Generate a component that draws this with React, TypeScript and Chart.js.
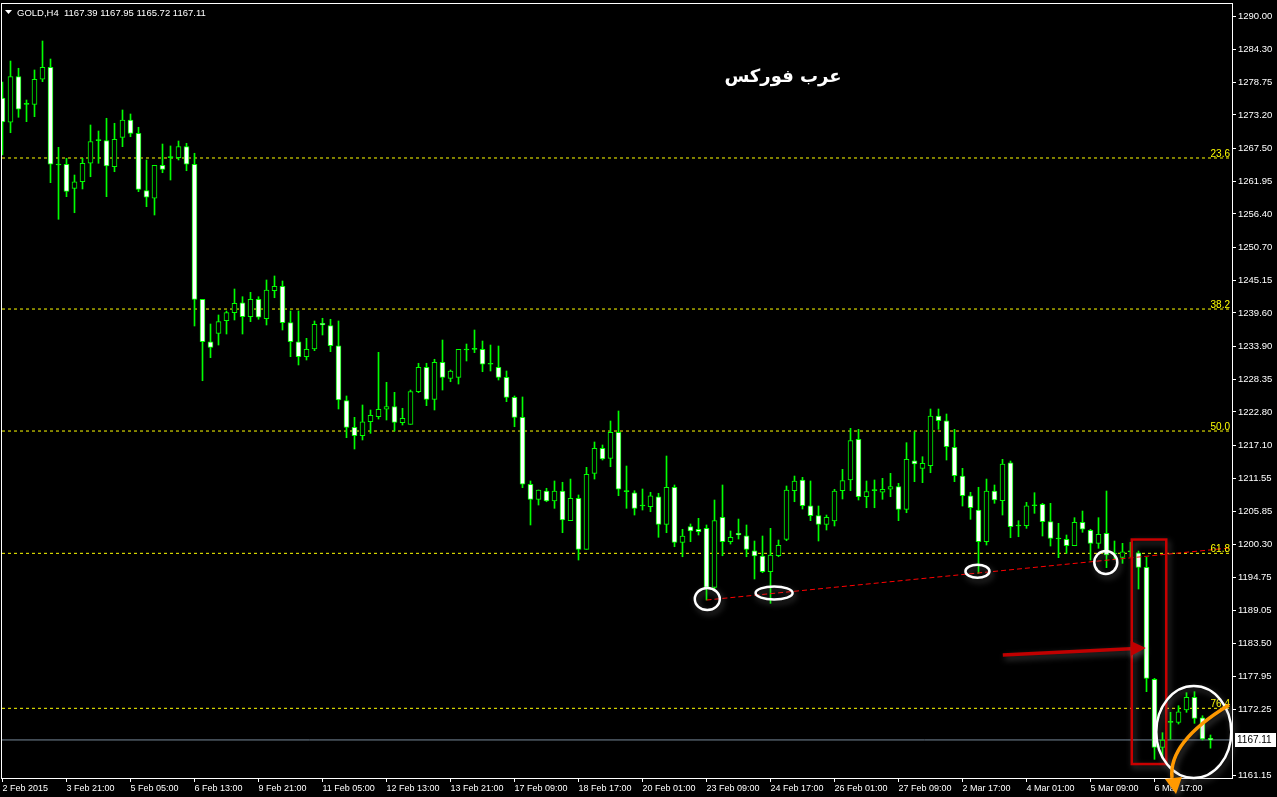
import React, { useEffect, useRef } from 'react';
import { Chart, registerables } from 'chart.js';

Chart.register(...registerables);

// ---- DATA (GOLD, H4) ----
const opens = [
  1276.08, 1271.96, 1279.70, 1275.01, 1275.01, 1279.26, 1281.30, 1264.71, 1264.83, 1260.75,
  1261.87, 1265.00, 1268.84, 1268.84, 1264.42, 1269.41, 1272.35, 1270.09, 1260.35, 1259.06,
  1264.66, 1265.95, 1265.95, 1267.82, 1264.83, 1241.91, 1234.71, 1236.14, 1238.28, 1239.64,
  1241.33, 1238.96, 1241.91, 1238.62, 1243.37, 1244.12, 1237.94, 1234.71, 1232.17, 1233.47,
  1237.84, 1237.43, 1234.03, 1224.70, 1220.18, 1218.76, 1221.13, 1221.98, 1223.24, 1223.68,
  1220.96, 1220.69, 1226.23, 1230.37, 1224.93, 1231.22, 1228.50, 1228.67, 1233.30, 1233.42,
  1233.42, 1230.88, 1230.37, 1228.67, 1225.27, 1221.88, 1210.51, 1207.96, 1209.37, 1207.67,
  1209.37, 1204.33, 1208.13, 1199.47, 1212.37, 1216.62, 1214.92, 1219.33, 1209.25, 1209.08,
  1206.82, 1206.70, 1208.40, 1203.71, 1210.00, 1200.66, 1203.31, 1202.87, 1203.03, 1193.02,
  1204.90, 1200.76, 1202.19, 1201.78, 1199.23, 1198.33, 1195.67, 1198.38, 1201.17, 1209.42,
  1211.24, 1206.87, 1205.18, 1203.71, 1204.28, 1209.42, 1211.24, 1218.14, 1208.40, 1209.42,
  1209.15, 1209.66, 1210.10, 1206.26, 1214.51, 1213.22, 1213.66, 1222.10, 1221.30, 1216.79,
  1211.91, 1208.57, 1206.14, 1200.76, 1209.37, 1207.72, 1214.17, 1203.43, 1203.48, 1206.87,
  1207.11, 1204.16, 1201.22, 1201.17, 1200.08, 1204.05, 1202.69, 1200.49, 1202.19, 1198.67,
  1198.11, 1199.06, 1198.89, 1196.41, 1177.40, 1165.86, 1170.10, 1170.10, 1172.19, 1174.35,
  1170.88, 1167.39,
];
const highs = [
  1278.80, 1282.36, 1281.13, 1275.74, 1280.84, 1285.76, 1282.70, 1267.71, 1265.85, 1263.01,
  1265.85, 1271.50, 1270.48, 1272.64, 1271.79, 1274.05, 1273.37, 1271.11, 1265.56, 1264.66,
  1268.27, 1267.94, 1268.78, 1268.39, 1266.70, 1241.91, 1237.72, 1239.25, 1239.92, 1243.66,
  1242.35, 1243.10, 1242.35, 1245.19, 1245.87, 1245.02, 1239.92, 1239.92, 1235.29, 1238.23,
  1238.69, 1238.52, 1238.23, 1225.50, 1221.88, 1223.97, 1223.12, 1232.91, 1227.82, 1226.12,
  1223.41, 1226.51, 1231.05, 1231.05, 1231.73, 1235.00, 1229.91, 1233.42, 1234.32, 1236.70,
  1234.83, 1234.15, 1233.98, 1229.74, 1225.50, 1225.33, 1211.07, 1209.54, 1209.83, 1211.07,
  1210.85, 1211.40, 1208.69, 1213.39, 1217.69, 1217.18, 1221.25, 1222.95, 1213.61, 1209.42,
  1209.71, 1209.15, 1208.98, 1215.31, 1210.39, 1202.87, 1203.77, 1204.73, 1203.60, 1207.84,
  1210.39, 1202.58, 1204.61, 1203.60, 1200.88, 1201.73, 1203.03, 1201.05, 1210.22, 1211.91,
  1211.69, 1211.07, 1206.82, 1205.29, 1209.66, 1213.05, 1220.01, 1219.84, 1211.07, 1211.24,
  1211.52, 1212.37, 1210.67, 1217.57, 1219.44, 1215.19, 1223.29, 1223.29, 1222.44, 1219.84,
  1213.22, 1209.15, 1210.00, 1211.40, 1210.39, 1214.75, 1214.46, 1204.33, 1207.45, 1209.08,
  1207.28, 1207.28, 1203.88, 1201.90, 1204.84, 1205.97, 1202.87, 1204.84, 1209.37, 1200.88,
  1200.49, 1200.66, 1199.18, 1198.11, 1177.57, 1168.34, 1171.80, 1172.92, 1175.13, 1175.30,
  1171.22, 1167.95,
];
const lows = [
  1266.41, 1270.19, 1272.81, 1272.06, 1272.91, 1278.85, 1261.71, 1255.49, 1259.33, 1256.61,
  1260.64, 1262.72, 1265.00, 1259.33, 1263.57, 1267.82, 1269.51, 1260.18, 1257.63, 1256.22,
  1263.40, 1262.16, 1265.56, 1263.74, 1237.38, 1228.09, 1232.00, 1234.15, 1236.02, 1238.40,
  1236.02, 1238.11, 1238.52, 1237.55, 1242.18, 1236.70, 1232.17, 1230.76, 1231.61, 1233.19,
  1235.85, 1233.02, 1223.29, 1218.42, 1216.50, 1218.03, 1219.16, 1221.59, 1221.42, 1219.55,
  1220.57, 1220.69, 1226.06, 1223.85, 1223.12, 1226.51, 1227.92, 1227.53, 1231.44, 1232.85,
  1229.62, 1229.74, 1228.21, 1224.53, 1220.28, 1209.93, 1203.60, 1206.99, 1207.55, 1206.43,
  1202.29, 1204.33, 1197.65, 1199.47, 1211.40, 1214.63, 1213.49, 1208.57, 1206.43, 1205.29,
  1206.14, 1205.85, 1201.51, 1202.29, 1199.91, 1198.21, 1200.76, 1201.90, 1190.86, 1192.56,
  1198.38, 1200.37, 1201.22, 1198.21, 1194.43, 1195.50, 1190.30, 1198.21, 1200.93, 1207.55,
  1206.31, 1204.33, 1200.88, 1202.75, 1203.43, 1208.01, 1209.42, 1207.84, 1206.53, 1206.53,
  1207.96, 1208.40, 1204.33, 1205.68, 1210.95, 1210.78, 1212.47, 1219.84, 1214.63, 1210.95,
  1206.82, 1204.56, 1195.40, 1200.20, 1207.28, 1205.29, 1201.44, 1201.61, 1203.03, 1205.58,
  1201.73, 1200.03, 1198.05, 1198.79, 1200.08, 1202.36, 1197.65, 1199.64, 1196.35, 1197.77,
  1197.09, 1198.21, 1192.73, 1175.30, 1163.82, 1164.04, 1167.22, 1169.81, 1171.80, 1169.93,
  1167.10, 1165.72,
];
const closes = [
  1272.01, 1279.70, 1274.17, 1275.01, 1279.26, 1281.30, 1264.83, 1264.71, 1260.24, 1261.87,
  1265.00, 1268.67, 1268.84, 1264.54, 1269.07, 1272.35, 1270.09, 1260.58, 1259.23, 1264.66,
  1263.98, 1265.95, 1267.82, 1264.83, 1241.91, 1234.71, 1233.76, 1238.11, 1239.64, 1241.23,
  1238.96, 1241.91, 1238.86, 1243.49, 1244.12, 1237.94, 1234.71, 1232.17, 1233.42, 1237.67,
  1237.55, 1234.03, 1224.82, 1220.18, 1218.76, 1221.13, 1222.22, 1223.24, 1223.68, 1221.03,
  1221.71, 1226.23, 1230.37, 1224.93, 1231.22, 1228.67, 1229.74, 1233.42, 1233.30, 1233.42,
  1230.88, 1230.88, 1228.67, 1225.27, 1221.88, 1210.51, 1207.96, 1209.54, 1207.67, 1209.37,
  1204.44, 1208.13, 1199.47, 1212.20, 1216.62, 1214.80, 1219.33, 1209.66, 1209.25, 1206.43,
  1206.82, 1208.57, 1203.71, 1210.00, 1200.66, 1201.73, 1202.58, 1202.46, 1193.02, 1204.33,
  1200.76, 1201.51, 1201.90, 1199.47, 1198.33, 1195.67, 1198.50, 1200.15, 1209.54, 1211.07,
  1206.87, 1205.18, 1203.71, 1204.90, 1209.37, 1211.12, 1217.91, 1208.40, 1209.25, 1209.42,
  1209.66, 1210.10, 1206.26, 1214.75, 1213.95, 1214.07, 1222.10, 1221.30, 1216.89, 1211.96,
  1208.57, 1206.53, 1200.76, 1209.37, 1207.84, 1213.95, 1203.31, 1203.43, 1206.87, 1206.87,
  1204.16, 1201.34, 1201.22, 1200.08, 1204.05, 1202.87, 1200.49, 1202.02, 1198.50, 1198.67,
  1199.06, 1199.06, 1196.41, 1177.57, 1165.86, 1167.10, 1170.10, 1171.90, 1174.35, 1170.78,
  1167.27, 1167.11,
];

const timeLabels = [
  '2 Feb 2015', '3 Feb 21:00', '5 Feb 05:00', '6 Feb 13:00', '9 Feb 21:00', '11 Feb 05:00',
  '12 Feb 13:00', '13 Feb 21:00', '17 Feb 09:00', '18 Feb 17:00', '20 Feb 01:00', '23 Feb 09:00',
  '24 Feb 17:00', '26 Feb 01:00', '27 Feb 09:00', '2 Mar 17:00', '4 Mar 01:00', '5 Mar 09:00',
  '6 Mar 17:00',
];
const barsPerTimeLabel = 8;

const priceTicks = [
  1290.0, 1284.3, 1278.75, 1273.2, 1267.5, 1261.95, 1256.4, 1250.7, 1245.15, 1239.6, 1233.9,
  1228.35, 1222.8, 1217.1, 1211.55, 1205.85, 1200.3, 1194.75, 1189.05, 1183.5, 1177.95,
  1172.25, 1161.15,
];

const fibLabels = ['23.6', '38.2', '50.0', '61.8', '76.4'];
const fibPrices = [1265.9, 1240.26, 1219.55, 1198.79, 1172.48];

const trendIndex = [88, 153.69];
const trendPrices = [1190.86, 1199.74];

const lastPrice = 1167.11;
const headerText = 'GOLD,H4  1167.39 1167.95 1165.72 1167.11';
const titleText = 'عرب فوركس';

// ---- view window ----
const X_MIN = -0.0625;
const X_MAX = 153.6875;
const Y_MIN = 1160.65;
const Y_MAX = 1292.04;

const FONT = "'Liberation Sans', Arial, sans-serif";

// annotation shapes (data coordinates: bar index, price; radii in px)
const ellipses = [
  { i: 88.1, p: 1191.03, rx: 12.5, ry: 11 },
  { i: 96.45, p: 1192.05, rx: 18.5, ry: 6.5 },
  { i: 121.87, p: 1195.74, rx: 12, ry: 6.5 },
  { i: 137.91, p: 1197.23, rx: 11.5, ry: 11.5 },
  { i: 148.91, p: 1168.46, rx: 37.5, ry: 46 },
];
const boxRange = { i0: 141.16, i1: 145.47, p0: 1201.13, p1: 1163.02 };
const redArrow = { i0: 125.04, p0: 1181.53, i1: 142.91, p1: 1182.72 };
const orangeCurve = { i0: 153.31, p0: 1173.04, ic: 145.69, pc: 1166.76, i1: 146.19, p1: 1160.65 };
const orangeHead = [
  [146.69, 1157.93],
  [145.31, 1160.48],
  [147.44, 1160.82],
];

const overlayPlugin = {
  id: 'mt4overlay',
  afterDatasetsDraw(chart: any) {
    const { ctx, chartArea: a, scales } = chart;
    const X = (v: number) => scales.x.getPixelForValue(v);
    const Y = (v: number) => scales.y.getPixelForValue(v);
    ctx.save();

    // frame
    ctx.strokeStyle = '#ffffff';
    ctx.lineWidth = 1;
    ctx.strokeRect(a.left - 0.5, a.top - 0.5, a.right - a.left + 1, a.bottom - a.top + 1);

    // fib labels
    ctx.font = `10px ${FONT}`;
    ctx.fillStyle = '#ffff00';
    ctx.textAlign = 'right';
    ctx.textBaseline = 'alphabetic';
    fibPrices.forEach((p, k) => ctx.fillText(fibLabels[k], a.right - 2, Math.round(Y(p)) - 1));

    // header
    ctx.fillStyle = '#ffffff';
    ctx.beginPath();
    ctx.moveTo(5, 10);
    ctx.lineTo(12, 10);
    ctx.lineTo(8.5, 14);
    ctx.closePath();
    ctx.fill();
    ctx.textAlign = 'left';
    ctx.font = `9.5px ${FONT}`;
    ctx.fillText(headerText, 17, 16);

    // title
    ctx.font = "bold 18px 'DejaVu Sans', sans-serif";
    ctx.textAlign = 'center';
    ctx.textBaseline = 'middle';
    ctx.fillText(titleText, 783, 77);

    // annotations with soft shadow
    ctx.shadowColor = 'rgba(150,150,150,0.45)';
    ctx.shadowBlur = 6;
    ctx.shadowOffsetX = 2;
    ctx.shadowOffsetY = 3;

    // red box
    ctx.strokeStyle = '#c80000';
    ctx.lineWidth = 2.5;
    const bx0 = X(boxRange.i0), bx1 = X(boxRange.i1);
    const by0 = Y(boxRange.p0), by1 = Y(boxRange.p1);
    ctx.strokeRect(bx0, by0, bx1 - bx0, by1 - by0);

    // red arrow
    const ax0 = X(redArrow.i0), ay0 = Y(redArrow.p0);
    const ax1 = X(redArrow.i1), ay1 = Y(redArrow.p1);
    ctx.strokeStyle = '#c00000';
    ctx.fillStyle = '#c00000';
    ctx.lineWidth = 3.5;
    ctx.beginPath();
    ctx.moveTo(ax0, ay0);
    ctx.lineTo(ax1 - 15, ay1 + 0.8);
    ctx.stroke();
    ctx.beginPath();
    ctx.moveTo(ax1, ay1);
    ctx.lineTo(ax1 - 15, ay1 - 7);
    ctx.lineTo(ax1 - 15, ay1 + 8);
    ctx.closePath();
    ctx.fill();

    // white ellipses
    ctx.strokeStyle = '#ffffff';
    ctx.lineWidth = 2.5;
    ellipses.forEach((e) => {
      ctx.beginPath();
      ctx.ellipse(X(e.i), Y(e.p), e.rx, e.ry, 0, 0, Math.PI * 2);
      ctx.stroke();
    });

    // orange curved arrow
    ctx.strokeStyle = '#ff9900';
    ctx.fillStyle = '#ff9900';
    ctx.lineWidth = 3.5;
    ctx.beginPath();
    ctx.moveTo(X(orangeCurve.i0), Y(orangeCurve.p0));
    ctx.quadraticCurveTo(X(orangeCurve.ic), Y(orangeCurve.pc), X(orangeCurve.i1), Y(orangeCurve.p1));
    ctx.stroke();
    ctx.beginPath();
    orangeHead.forEach(([i, p], k) => (k === 0 ? ctx.moveTo(X(i), Y(p)) : ctx.lineTo(X(i), Y(p))));
    ctx.closePath();
    ctx.fill();

    ctx.shadowColor = 'transparent';
    ctx.shadowBlur = 0;
    ctx.shadowOffsetX = 0;
    ctx.shadowOffsetY = 0;

    // current price label
    const py = Math.round(Y(lastPrice));
    ctx.fillStyle = '#ffffff';
    ctx.fillRect(a.right + 3, py - 7, 41, 14);
    ctx.fillStyle = '#000000';
    ctx.font = `10px ${FONT}`;
    ctx.textAlign = 'left';
    ctx.textBaseline = 'middle';
    ctx.fillText(lastPrice.toFixed(2), a.right + 5, py + 0.5);

    ctx.restore();
  },
};

export default function App() {
  const ref = useRef<HTMLCanvasElement>(null);

  useEffect(() => {
    document.body.style.margin = '0';
    document.body.style.background = '#000';
    const canvas = ref.current;
    if (!canvas) return;
    const n = opens.length;
    const idx = Array.from({ length: n }, (_, i) => i);
    const bodyFill = idx.map((i) =>
      closes[i] > opens[i] ? '#000000' : closes[i] < opens[i] ? '#ffffff' : '#00ff00'
    );

    const lineDs = (data: any[], color: string, dash: number[] | undefined, order: number) => ({
      type: 'line' as const,
      data,
      borderColor: color,
      borderWidth: 1,
      borderDash: dash,
      pointRadius: 0,
      fill: false,
      tension: 0,
      order,
    });

    const chart = new Chart(canvas, {
      type: 'bar',
      data: {
        datasets: [
          lineDs(
            trendIndex.map((x, k) => ({ x, y: trendPrices[k] })),
            '#ff0000',
            [5, 3],
            0
          ) as any,
          {
            type: 'bar',
            data: idx.map((i) => ({ x: i, y: [opens[i], closes[i]] })),
            backgroundColor: bodyFill,
            borderColor: '#00ff00',
            borderWidth: 1,
            borderSkipped: false,
            barThickness: 5,
            minBarLength: 1,
            grouped: false,
            order: 1,
          } as any,
          {
            type: 'bar',
            data: idx.map((i) => ({ x: i, y: [lows[i], highs[i]] })),
            backgroundColor: '#00ff00',
            borderWidth: 0,
            barThickness: 1,
            grouped: false,
            order: 2,
          } as any,
          ...fibPrices.map(
            (p) =>
              lineDs(
                [
                  { x: X_MIN, y: p },
                  { x: X_MAX, y: p },
                ],
                '#ffff00',
                [3, 3],
                3
              ) as any
          ),
          lineDs(
            [
              { x: X_MIN, y: lastPrice },
              { x: X_MAX, y: lastPrice },
            ],
            '#778899',
            undefined,
            3
          ) as any,
        ],
      },
      options: {
        responsive: false,
        animation: false,
        events: [],
        layout: { padding: { left: 2, top: 4, right: 0, bottom: 0 } },
        plugins: { legend: { display: false }, tooltip: { enabled: false } },
        scales: {
          x: {
            type: 'linear',
            position: 'bottom',
            min: X_MIN,
            max: X_MAX,
            offset: false,
            afterBuildTicks: (s: any) => {
              s.ticks = timeLabels.map((_, k) => ({ value: k * barsPerTimeLabel }));
            },
            afterFit: (s: any) => {
              s.height = 19;
              s.paddingLeft = 0;
              s.paddingRight = 0;
            },
            grid: {
              offset: false,
              drawOnChartArea: false,
              drawTicks: true,
              tickLength: 4,
              color: '#ffffff',
            },
            border: { display: false },
            ticks: {
              autoSkip: false,
              maxRotation: 0,
              minRotation: 0,
              align: 'start',
              padding: 1,
              color: '#ffffff',
              font: { family: FONT, size: 9 },
              callback: (_v: any, i: number) => timeLabels[i] ?? '',
            },
          } as any,
          y: {
            type: 'linear',
            position: 'right',
            min: Y_MIN,
            max: Y_MAX,
            beginAtZero: false,
            afterBuildTicks: (s: any) => {
              s.ticks = priceTicks.map((v) => ({ value: v }));
            },
            afterFit: (s: any) => {
              s.width = 45;
              s.paddingTop = 0;
              s.paddingBottom = 0;
            },
            grid: {
              drawOnChartArea: false,
              drawTicks: true,
              tickLength: 4,
              color: '#ffffff',
            },
            border: { display: false },
            ticks: {
              autoSkip: false,
              padding: 2,
              color: '#ffffff',
              font: { family: FONT, size: 9.5 },
              callback: (v: any) => Number(v).toFixed(2),
            },
          } as any,
        },
      },
      plugins: [overlayPlugin],
    });

    return () => chart.destroy();
  }, []);

  return (
    <div style={{ width: 1277, height: 797, background: '#000' }}>
      <canvas ref={ref} width={1277} height={797} style={{ display: 'block', width: 1277, height: 797 }} />
    </div>
  );
}
